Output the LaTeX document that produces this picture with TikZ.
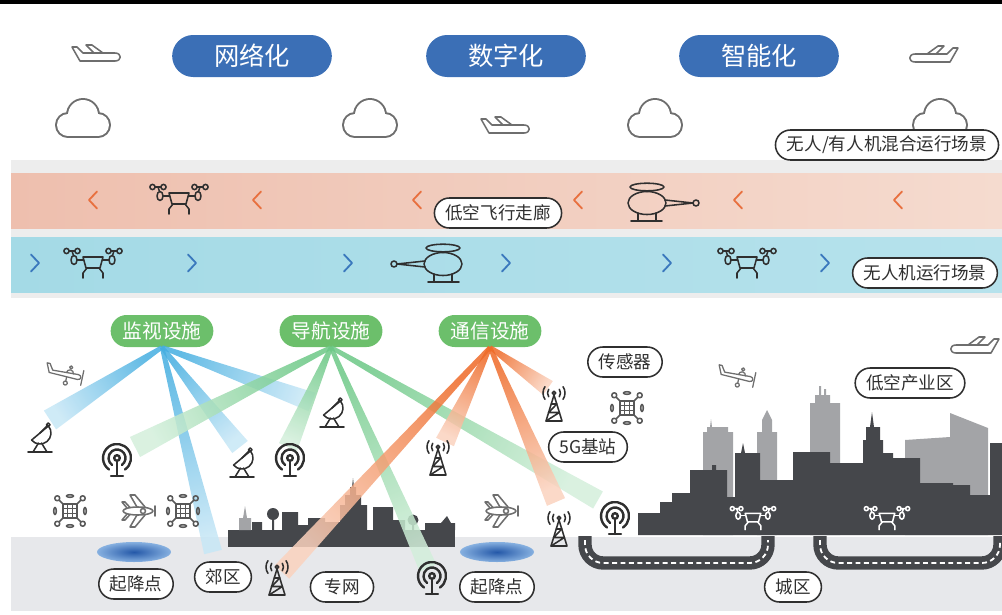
\documentclass[tikz,border=0pt]{standalone}
\usepackage{fontspec}
\setmainfont{Noto Sans CJK SC}
\usetikzlibrary{calc,shapes.misc}

\definecolor{blueP}{HTML}{3B6FB6}
\definecolor{greenP}{HTML}{6CBF6B}
\definecolor{ink}{HTML}{2F2F2F}
\definecolor{iconG}{HTML}{6E6E6E}
\definecolor{bandA}{HTML}{EEBFAE}
\definecolor{bandB}{HTML}{F5DBCF}
\definecolor{bandC}{HTML}{A4DAE6}
\definecolor{bandD}{HTML}{B6E2EC}
\definecolor{chevO}{HTML}{E8703F}
\definecolor{chevB}{HTML}{3A78BD}
\definecolor{cityD}{HTML}{45474B}
\definecolor{cityG}{HTML}{A3A4A7}
\definecolor{ground}{HTML}{E7E8EB}
\definecolor{strip}{HTML}{EDEDED}
\definecolor{beamB}{HTML}{45AEE0}
\definecolor{beamG}{HTML}{6CC886}
\definecolor{beamO}{HTML}{EE6A28}
\definecolor{padD}{HTML}{2458A8}
\definecolor{padL}{HTML}{86B0E0}

% tapered beam from #1 to #2, colour #3, half width #4 at the far end
\newcommand\beam[4]{%
  \pgfmathanglebetweenpoints{\pgfpointanchor{#1}{center}}{\pgfpointanchor{#2}{center}}%
  \pgfmathsetmacro\beamangle{\pgfmathresult+90}%
  \shade[top color=#3, bottom color=#3!30, shading angle=\beamangle, fill opacity=.85]
    ($(#1)!1.5pt!90:(#2)$) -- ($(#2)!#4!-90:(#1)$) -- ($(#2)!#4!90:(#1)$) -- ($(#1)!1.5pt!-90:(#2)$) -- cycle;}

\begin{document}
\begin{tikzpicture}[x=0.025cm, y=-0.025cm,
    bluepill/.style={rounded rectangle, fill=blueP, text=white, minimum width=4.225cm, minimum height=1.05cm, font=\fontsize{18}{20}\selectfont},
    greenpill/.style={rounded rectangle, fill=greenP, text=white, minimum height=0.8cm, inner xsep=6.5pt, font=\fontsize{14}{16}\selectfont},
    tag/.style={rounded rectangle, draw=ink, line width=1.1pt, fill=white, text=ink, minimum height=0.75cm, inner xsep=6pt, font=\fontsize{12.5}{14}\selectfont},
    chev/.style={line width=1.3pt, line cap=round, line join=round},
    road/.style={line width=9.5pt, draw=cityD, rounded corners=13pt},
    roadmark/.style={line width=1.3pt, draw=white, dash pattern=on 3.5pt off 2.5pt, rounded corners=13pt},
    every pic/.style={line width=1.1pt, line cap=round, line join=round},
    pics/cloud/.style={code={
      \begin{scope}[yscale=-1]
        \path[draw=iconG, line width=2.8pt] (0,5) circle[radius=15] (-15,-5) circle[radius=11] (15,-5) circle[radius=11] (-15,-16) rectangle (15,-5);
        \fill[white] (0,5) circle[radius=15];
        \fill[white] (-15,-5) circle[radius=11];
        \fill[white] (15,-5) circle[radius=11];
        \fill[white] (-15,-16) rectangle (15,-5);
      \end{scope}}},
    pics/jet/.style={code={
      \begin{scope}[yscale=-1]
        \draw[fill=white] (-25,7) -- (-20,7) -- (-14,1) -- (18,1) .. controls (25,1) and (25,-7) .. (18,-7) -- (-17,-7) -- cycle;
        \draw (-3,1) -- (-11,9) -- (-5,9) -- (6,1);
      \end{scope}}},
    pics/prop/.style={code={
      \begin{scope}[yscale=-1, rotate=12, line width=0.9pt]
        \draw[fill=white] (-21,8) -- (-17,-1) -- (12,-2) .. controls (16,-2) and (16,3) .. (12,3) -- (-14,2) -- (-18,8) -- cycle;
        \draw (0,2.5) arc[start angle=180, end angle=0, radius=3.5];
        \draw (3.5,8.5) circle[radius=1.6];
        \draw (1,-2) -- (1,-6) (1,-8) circle[radius=2];
        \draw (16.5,-7) -- (16.5,8);
      \end{scope}}},
    pics/drone/.style={code={
      \begin{scope}[yscale=-1]
        \foreach \s in {-1,1} {
          \draw (\s*21-5.5,12) circle[radius=2.6] (\s*21+5.5,12) circle[radius=2.6];
          \draw (\s*21-2.9,12) -- (\s*21+2.9,12) (\s*21,12) -- (\s*19.5,7.5);
          \draw (\s*19,3) ellipse[x radius=3, y radius=4.5];
          \draw (\s*16,3) -- (\s*9.5,3);
          \draw (\s*6,-5) -- (\s*10,-10) -- (\s*10,-15);
        }
        \draw (-10,6) -- (10,6) -- (7,-5) -- (-7,-5) -- cycle;
      \end{scope}}},
    pics/heli/.style={code={
      \begin{scope}[yscale=-1]
        \draw (0,0) ellipse[x radius=19, y radius=11.5];
        \draw (0,16) ellipse[x radius=17, y radius=3.8] (0,11.5) -- (0,12.2);
        \draw (18,3) -- (46,0) -- (18,-3);
        \draw (49,0) circle[radius=3];
        \draw (-9,-10) -- (-9,-18) (9,-10) -- (9,-18) (-16,-18) -- (15,-18);
      \end{scope}}},
    pics/quad/.style={code={
      \begin{scope}[yscale=-1]
        \draw (-7,-7) rectangle (7,7);
        \draw (-2.3,-7) -- (-2.3,7) (2.3,-7) -- (2.3,7) (-7,-2.3) -- (7,-2.3) (-7,2.3) -- (7,2.3);
        \foreach \a in {45,135,225,315} \draw (\a:10) -- (\a:15.5) (\a:18) circle[radius=2.5];
        \draw (-15,0) ellipse[x radius=1.3, y radius=3.5] (15,0) ellipse[x radius=1.3, y radius=3.5];
        \draw (0,15) ellipse[x radius=3.5, y radius=1.3] (0,-15) ellipse[x radius=3.5, y radius=1.3];
      \end{scope}}},
    pics/tplane/.style={code={
      \begin{scope}[yscale=-1]
        \draw[fill=white] (0,0) ellipse[x radius=15, y radius=4];
        \draw (-1,4) -- (-8,16) -- (-3,16) -- (7,4) (-1,-4) -- (-8,-16) -- (-3,-16) -- (7,-4);
        \draw (-11,3) -- (-16,9) -- (-13,9) -- (-8,3.5) (-11,-3) -- (-16,-9) -- (-13,-9) -- (-8,-3.5);
        \draw (5,0) circle[radius=2.5];
        \draw (17,-5) -- (17,5);
      \end{scope}}},
    pics/dish/.style={code={
      \begin{scope}[yscale=-1]
        \draw[rotate around={-40:(0,4)}] (-11,4) arc[start angle=180, end angle=360, radius=11] -- cycle;
        \draw (0,4) -- (7,11) (8.3,12.3) circle[radius=1.8];
        \draw (-1.5,-6) -- (-7,-15) (1.5,-6) -- (7,-15) (-12,-15) -- (12,-15);
      \end{scope}}},
    pics/radio/.style={code={
      \begin{scope}[yscale=-1, line width=1.7pt]
        \draw (0,4) circle[radius=2.8];
        \draw ([shift={(0,4)}]-55:8.5) arc[start angle=-55, end angle=235, radius=8.5];
        \draw ([shift={(0,4)}]-55:14) arc[start angle=-55, end angle=235, radius=14];
        \draw (0,1.2) -- (0,-14) (-6,-14) -- (6,-14);
      \end{scope}}},
    pics/tower/.style={code={
      \begin{scope}[yscale=-1]
        \draw (0,11) -- (-8,-15) -- (8,-15) -- cycle;
        \draw (-2.8,2) -- (2.8,2) -- (-5.4,-6.5) -- (5.4,-6.5) -- (-8,-15);
        \draw (0,13) circle[radius=1.8];
        \foreach \r in {6.5,11} {
          \draw ([shift={(0,13)}]145:\r) arc[start angle=145, end angle=215, radius=\r];
          \draw ([shift={(0,13)}]-35:\r) arc[start angle=-35, end angle=35, radius=\r];
        }
      \end{scope}}}
  ]
  \useasboundingbox (0,0) rectangle (1002,614);
  \fill[black] (0,0) rectangle (1002,3.5);

  % flight bands
  \fill[strip] (11,160) rectangle (1002,298);
  \shade[left color=bandA, right color=bandB] (11,173) rectangle (1002,228);
  \shade[left color=bandC, right color=bandD] (11,237) rectangle (1002,292);

  % ground and roads
  \fill[ground] (11,537) rectangle (1002,611);
  \draw[road] (585,536) -- (585,563) -- (768,563) -- (768,536);
  \draw[road] (820,536) -- (820,563) -- (1000,563) -- (1000,536);
  \draw[roadmark] (585,540) -- (585,563) -- (768,563) -- (768,540);
  \draw[roadmark] (820,540) -- (820,563) -- (1000,563) -- (1000,540);

  % suburb skyline
  \fill[cityD] (228,530) rectangle (455,547);
  \fill[cityG] (239,530) -- (239,518) -- (243,518) -- (245,506) -- (247,518) -- (251,518) -- (251,530) -- cycle;
  \fill[cityD] (252,522) rectangle (262,530) (272,515) rectangle (274,530) (282,512) rectangle (298,530)
    (298,525) rectangle (308,530) (308,518) rectangle (325,530) (325,522) rectangle (340,530)
    (373,507) rectangle (393,530) (393,520) rectangle (405,530) (412,520) rectangle (414,530);
  \fill[cityD] (273,514) circle[radius=6];
  \fill[cityD] (413,520) circle[radius=5.5];
  \fill[cityD] (340,530) -- (340,505) -- (345,505) -- (345,495) -- (350,495) -- (350,487) -- (352,487) -- (353,478)
    -- (354,487) -- (356,487) -- (356,495) -- (361,495) -- (361,505) -- (367,505) -- (367,530) -- cycle;
  \fill[cityD] (425,530) -- (425,523) -- (441,523) -- (447,516) -- (451,523) -- (455,523) -- (455,530) -- cycle;

  % city skyline
  \fill[cityG] (703,535) -- (703,432) -- (707,432) -- (707,427) -- (710,427) -- (711,419) -- (712,427) -- (728,427)
    -- (728,432) -- (733,432) -- (733,535) -- cycle;
  \fill[cityG] (757,535) -- (757,432) -- (762,432) -- (762,420) -- (767,410) -- (772,420) -- (772,432) -- (777,432)
    -- (777,535) -- cycle;
  \fill[cityG] (810,535) -- (810,403) -- (815,403) -- (815,395) -- (819,395) -- (819,386) -- (821,386) -- (821,395)
    -- (824,395) -- (824,389) -- (826,389) -- (826,395) -- (830,395) -- (830,403) -- (840,403) -- (840,535) -- cycle;
  \fill[cityG] (905,535) -- (905,440) -- (950,437) -- (950,413) -- (988,428) -- (988,535) -- cycle;
  \fill[cityD] (638,535) -- (638,513) -- (660,513) -- (660,502) -- (672,502) -- (672,493) -- (690,493) -- (690,470)
    -- (712,470) -- (712,465) -- (716,465) -- (716,470) -- (727,470) -- (727,497) -- (735,497) -- (735,453)
    -- (741,453) -- (743,443) -- (745,453) -- (760,453) -- (760,480) -- (793,480) -- (793,452) -- (830,452)
    -- (830,463) -- (863,463) -- (863,440) -- (866,440) -- (866,427) -- (870,427) -- (872,412) -- (874,427)
    -- (880,427) -- (880,440) -- (883,440) -- (883,453) -- (893,453) -- (893,458) -- (920,458) -- (920,483)
    -- (953,483) -- (953,485) -- (970,485) -- (970,495) -- (990,495) -- (990,443) -- (1002,443) -- (1002,535) -- cycle;

  % take-off and landing pads
  \shade[inner color=padD, outer color=padL] (134,552) ellipse[x radius=37, y radius=10];
  \shade[inner color=padD, outer color=padL] (497,552) ellipse[x radius=37, y radius=10];

  % facility labels
  \node[greenpill] (surv) at (162,331) {监视设施};
  \node[greenpill] (navi) at (331,331) {导航设施};
  \node[greenpill] (comm) at (490,331) {通信设施};
  \coordinate (survB) at (surv.south);
  \coordinate (naviB) at (navi.south);
  \coordinate (commB) at (comm.south);

  \coordinate (s1) at (50,420);
  \coordinate (s2) at (213,552);
  \coordinate (s3) at (240,447);
  \coordinate (s4) at (312,402);
  \coordinate (n1) at (135,447);
  \coordinate (n2) at (288,447);
  \coordinate (n3) at (428,568);
  \coordinate (n4) at (598,500);
  \coordinate (c1) at (282,572);
  \coordinate (c2) at (445,442);
  \coordinate (c3) at (548,388);
  \coordinate (c4) at (556,502);

  \beam{survB}{s1}{beamB}{8pt}
  \beam{survB}{s2}{beamB}{6.5pt}
  \beam{survB}{s3}{beamB}{7pt}
  \beam{survB}{s4}{beamB}{7pt}
  \beam{naviB}{n1}{beamG}{8pt}
  \beam{naviB}{n2}{beamG}{7pt}
  \beam{naviB}{n3}{beamG}{6.5pt}
  \beam{naviB}{n4}{beamG}{7pt}
  \beam{commB}{c1}{beamO}{7pt}
  \beam{commB}{c2}{beamO}{7pt}
  \beam{commB}{c3}{beamO}{6pt}
  \beam{commB}{c4}{beamO}{7pt}

  % sky
  \pic[color=iconG] at (97,54) {jet};
  \pic[color=iconG] at (506,126) {jet};
  \pic[color=iconG, xscale=-1] at (933,55) {jet};
  \pic[color=iconG, xscale=-1] at (974,346) {jet};
  \pic at (83,120) {cloud};
  \pic at (370,120) {cloud};
  \pic at (655,120) {cloud};
  \pic at (940,120) {cloud};

  \node[bluepill] (net) at (252,56) {网络化};
  \node[bluepill] (digit) at (506,56) {数字化};
  \node[bluepill] (smart) at (759,56) {智能化};
  \node[tag] (mixed) at (887,145) {无人/有人机混合运行场景};

  % bands
  \foreach \x in {93,257,417,578,738,898}
    \draw[chev, chevO] (\x+4,191.5) -- (\x-4,200) -- (\x+4,208.5);
  \foreach \x in {35,192,348,506,667,825}
    \draw[chev, chevB] (\x-4,254.5) -- (\x+4,263) -- (\x-4,271.5);
  \pic[color=ink] at (179,199) {drone};
  \pic[color=ink] at (647,203) {heli};
  \pic[color=ink] at (93,263) {drone};
  \pic[color=ink, xscale=-1] at (443,264) {heli};
  \pic[color=ink] at (747,263) {drone};
  \node[tag] (corridor) at (498,213) {低空飞行走廊};
  \node[tag] (uavscene) at (925,273) {无人机运行场景};

  % ground facilities
  \pic[color=iconG] at (66,375) {prop};
  \pic[color=iconG] at (738,377) {prop};
  \pic[color=ink] at (40,437) {dish};
  \pic[color=ink] at (242,462) {dish};
  \pic[color=ink] at (332,412) {dish};
  \pic[color=ink] at (117,462) {radio};
  \pic[color=ink] at (290,462) {radio};
  \pic[color=ink] at (432,580) {radio};
  \pic[color=ink] at (615,520) {radio};
  \pic[color=ink] at (438,460) {tower};
  \pic[color=ink] at (554,406) {tower};
  \pic[color=ink] at (559,531) {tower};
  \pic[color=ink] at (277,580) {tower};
  \pic[color=iconG!80!black] at (70,511) {quad};
  \pic[color=iconG!80!black] at (183,511) {quad};
  \pic[color=iconG!80!black] at (627,408) {quad};
  \pic[color=iconG] at (138,511) {tplane};
  \pic[color=iconG] at (501,511) {tplane};
  \pic[color=white, scale=0.78] at (753,518) {drone};
  \pic[color=white, scale=0.78] at (887,518) {drone};

  \node[tag] (sensor) at (625,362) {传感器};
  \node[tag] (bs5g) at (588,447) {5G基站};
  \node[tag] (indus) at (910,383) {低空产业区};
  \node[tag] (padl) at (136,584) {起降点};
  \node[tag] (suburb) at (223,577) {郊区};
  \node[tag, minimum width=2cm] (privnet) at (342,587) {专网};
  \node[tag] (padr) at (497,587) {起降点};
  \node[tag] (urban) at (793,587) {城区};
\end{tikzpicture}
\end{document}
